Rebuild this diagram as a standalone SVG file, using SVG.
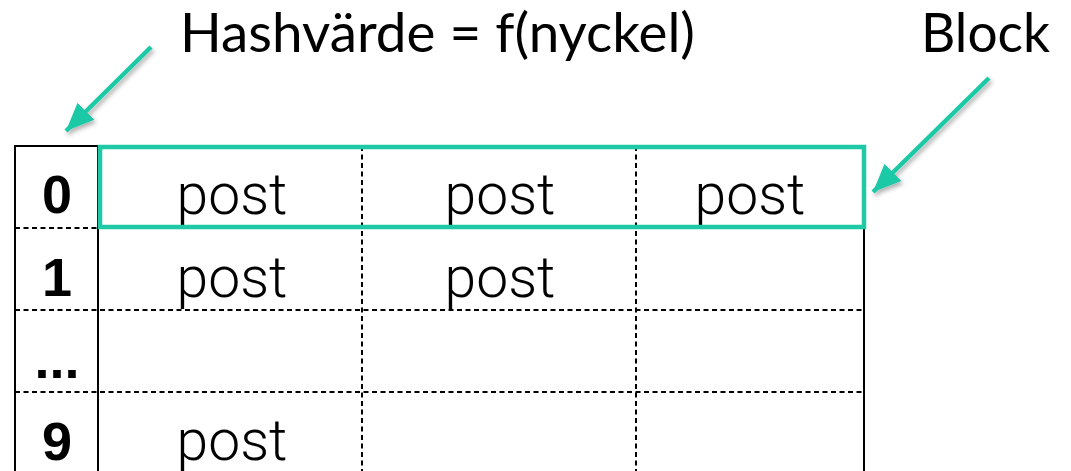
<svg xmlns="http://www.w3.org/2000/svg" width="1071" height="471" viewBox="0 0 1071 471">
<style>
.solid{stroke:#000;stroke-width:2;fill:none}
.dash{stroke:#000;stroke-width:2;stroke-dasharray:5 3.5;fill:none}
.post{font-family:Roboto,"Liberation Sans",sans-serif;font-weight:300;font-size:57px;fill:#000;text-anchor:middle}
.idx{font-family:"Liberation Sans",Arial,sans-serif;font-weight:bold;font-size:54px;fill:#000;text-anchor:middle}
.title{font-family:Lato,"Open Sans",sans-serif;font-size:54px;fill:#000}
.arrow{stroke:#1fc9a6;stroke-width:4.5;fill:none;marker-end:url(#head);filter:url(#sh)}
</style>
<defs>
<marker id="head" markerUnits="userSpaceOnUse" markerWidth="30" markerHeight="26" refX="28" refY="13" orient="auto">
<path d="M0,1 L28,13 L0,25 z" fill="#1fc9a6"/>
</marker>
<filter id="sh" x="-30%" y="-30%" width="160%" height="160%">
<feDropShadow dx="2" dy="3" stdDeviation="2" flood-color="#000" flood-opacity="0.3"/>
</filter>
</defs>
<rect width="1071" height="471" fill="#fff"/>
<g id="grid">
<line class="solid" x1="15" y1="146" x2="864" y2="146"/>
<line class="solid" x1="15" y1="145" x2="15" y2="471"/>
<line class="solid" x1="98" y1="145" x2="98" y2="471"/>
<line class="solid" x1="864" y1="145" x2="864" y2="471"/>
<line class="dash" x1="15" y1="228" x2="864" y2="228"/>
<line class="dash" x1="15" y1="310" x2="864" y2="310"/>
<line class="dash" x1="15" y1="392" x2="864" y2="392"/>
<line class="dash" x1="362" y1="146" x2="362" y2="471"/>
<line class="dash" x1="636" y1="146" x2="636" y2="471"/>
</g>
<g id="idx0"><text class="idx" x="57" y="213">0</text></g>
<g id="idx1"><text class="idx" x="57" y="296">1</text></g>
<g id="idx2"><text class="idx" x="57" y="378">...</text></g>
<g id="idx9"><text class="idx" x="57" y="460">9</text></g>
<g id="r0c1"><text class="post" x="232" y="214">post</text></g>
<g id="r0c2"><text class="post" x="500" y="214">post</text></g>
<g id="r0c3"><text class="post" x="750" y="214">post</text></g>
<g id="r1c1"><text class="post" x="232" y="297">post</text></g>
<g id="r1c2"><text class="post" x="500" y="297">post</text></g>
<g id="r9c1"><text class="post" x="232" y="460">post</text></g>
<g id="block"><rect x="100" y="147" width="764" height="80" fill="none" stroke="#1fc9a6" stroke-width="4.5"/></g>
<g id="label-hash"><text class="title" x="180" y="52" textLength="515" lengthAdjust="spacingAndGlyphs">Hashvärde = f(nyckel)</text></g>
<g id="label-block"><text class="title" x="921" y="52" textLength="129" lengthAdjust="spacingAndGlyphs">Block</text></g>
<g id="connectors">
<line class="arrow" x1="151" y1="47" x2="66" y2="131"/>
<line class="arrow" x1="989" y1="78" x2="873" y2="192"/>
</g>
</svg>
